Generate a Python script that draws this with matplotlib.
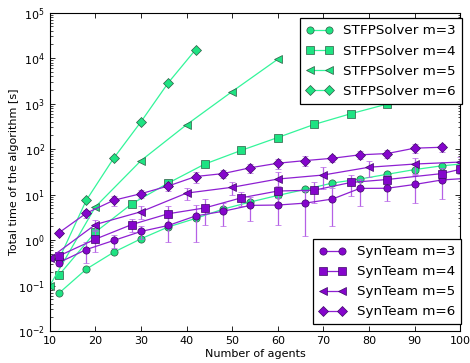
import numpy as np
import matplotlib
matplotlib.use("Agg")
import matplotlib.pyplot as plt

# ---- data (seconds) ----
x_stfp3 = [12, 18, 24, 30, 36, 42, 48, 54, 60, 66, 72, 78, 84, 90, 96, 102]
t_stfp3 = [0.068, 0.23, 0.54, 1.07, 1.95, 3.0, 4.8, 6.9, 9.6, 13.0, 18.0, 22.0, 28.0, 35.5, 43.0, 49.0]

x_stfp4 = [12, 20, 28, 36, 44, 52, 60, 68, 76, 84, 92, 100]
t_stfp4 = [0.17, 1.5, 6.3, 18.0, 47.0, 94.0, 180.0, 350.0, 600.0, 980.0, 1550.0, 2500.0]

x_stfp5 = [10, 20, 30, 40, 50, 60]
t_stfp5 = [0.10, 5.4, 56.0, 345.0, 1850.0, 9500.0]

x_stfp6 = [12, 18, 24, 30, 36, 42]
t_stfp6 = [0.38, 7.5, 63.0, 400.0, 2900.0, 15500.0]

x_syn3 = [12, 18, 24, 30, 36, 42, 48, 54, 60, 66, 72, 78, 84, 90, 96, 102]
t_syn3 = [0.32, 0.62, 0.98, 1.55, 2.1, 3.4, 4.3, 5.8, 5.9, 6.5, 8.0, 13.7, 13.8, 16.7, 21.0, 23.0]
e_syn3 = [0.05, 0.3, 0.3, 0.5, 1.2, 2.5, 2.3, 3.2, 3.8, 5.3, 6.0, 8.0, 6.5, 10.0, 13.0, 10.0]

x_syn4 = [12, 20, 28, 36, 44, 52, 60, 68, 76, 84, 96, 100]
t_syn4 = [0.45, 1.05, 2.2, 3.8, 5.1, 8.5, 12.0, 12.5, 18.5, 21.5, 29.0, 36.0]
e_syn4 = [0.05, 0.5, 0.7, 1.8, 3.0, 2.8, 3.5, 6.0, 9.0, 5.0, 10.0, 8.0]

x_syn5 = [10, 20, 30, 40, 50, 60, 70, 80, 90, 100]
t_syn5 = [0.40, 2.2, 4.2, 10.8, 14.5, 22.0, 27.0, 40.0, 47.0, 52.0]
e_syn5 = [0.05, 0.5, 1.3, 3.0, 4.5, 10.0, 14.0, 16.0, 18.0, 15.0]

x_syn6 = [12, 18, 24, 30, 36, 42, 48, 54, 60, 66, 72, 78, 84, 90, 96]
t_syn6 = [1.45, 3.9, 7.5, 10.5, 15.5, 25.0, 29.0, 39.0, 49.0, 56.0, 63.0, 75.0, 80.0, 105.0, 110.0]
e_syn6 = [0.15, 0.8, 1.8, 2.2, 3.5, 7.0, 6.0, 9.0, 13.0, 13.0, 12.0, 15.0, 15.0, 22.0, 22.0]

plt.rcParams['font.family'] = ['DejaVu Sans']
plt.rcParams['font.size'] = 8

GREEN_LINE = '#33f59a'
GREEN_FACE = '#1ee382'
GREEN_EDGE = '#2d5a44'
PURPLE_LINE = '#8e1fd2'
PURPLE_FACE = '#8505cc'
PURPLE_EDGE = '#3c0866'
PURPLE_ERR = '#b560e6'

fig = plt.figure(figsize=(4.70, 3.63), dpi=100)
ax = fig.add_axes([0.106, 0.088, 0.873, 0.877])

stfp = [(x_stfp3, t_stfp3, 'o', 'STFPSolver m=3'),
        (x_stfp4, t_stfp4, 's', 'STFPSolver m=4'),
        (x_stfp5, t_stfp5, '<', 'STFPSolver m=5'),
        (x_stfp6, t_stfp6, 'D', 'STFPSolver m=6')]
syn = [(x_syn3, t_syn3, e_syn3, 'o', 'SynTeam m=3'),
       (x_syn4, t_syn4, e_syn4, 's', 'SynTeam m=4'),
       (x_syn5, t_syn5, e_syn5, '<', 'SynTeam m=5'),
       (x_syn6, t_syn6, e_syn6, 'D', 'SynTeam m=6')]

ms = {'o': 5.2, 's': 5.2, '<': 5.2, 'D': 5.4}

h_stfp, l_stfp = [], []
for xs, ts, mk, lab in stfp:
    h, = ax.plot(xs, ts, marker=mk, ms=ms[mk], color=GREEN_LINE, lw=0.9,
                 mfc=GREEN_FACE, mec=GREEN_EDGE, mew=0.5)
    h_stfp.append(h)
    l_stfp.append(lab)

h_syn, l_syn = [], []
for xs, ts, es, mk, lab in syn:
    cont = ax.errorbar(xs, ts, yerr=es, marker=mk, ms=ms[mk], color=PURPLE_LINE,
                       lw=0.9, mfc=PURPLE_FACE, mec=PURPLE_EDGE, mew=0.5,
                       ecolor=PURPLE_ERR, elinewidth=0.9, capsize=2.3,
                       capthick=0.9)
    h_syn.append(cont[0])
    l_syn.append(lab)

ax.set_yscale('log')
ax.set_xlim(10, 100)
ax.set_ylim(1e-2, 1e5)
ax.set_xticks(np.arange(10, 101, 10))
ax.set_xlabel('Number of agents', fontsize=8, labelpad=2)
ax.set_ylabel('Total time of the algorithm [s]', fontsize=8, labelpad=-1)

ax.tick_params(which='both', direction='in', top=True, right=True, labelsize=8)
ax.tick_params(which='major', length=3.5, width=0.6)
ax.tick_params(which='minor', length=1.8, width=0.5)
for sp in ax.spines.values():
    sp.set_linewidth(0.8)

leg_kw = dict(borderaxespad=0, fontsize=9.7, numpoints=2, fancybox=False,
              framealpha=1, edgecolor='black', handlelength=2.0,
              handletextpad=0.8, borderpad=0.45, labelspacing=0.52)
leg1 = ax.legend(h_stfp, l_stfp, loc='upper right',
                 bbox_to_anchor=(1.005, 0.982), **leg_kw)
leg1.get_frame().set_linewidth(0.9)
ax.add_artist(leg1)
leg2 = ax.legend(h_syn, l_syn, loc='lower right',
                 bbox_to_anchor=(1.003, 0.021), **leg_kw)
leg2.get_frame().set_linewidth(0.9)

fig.savefig('out.png', dpi=100)
